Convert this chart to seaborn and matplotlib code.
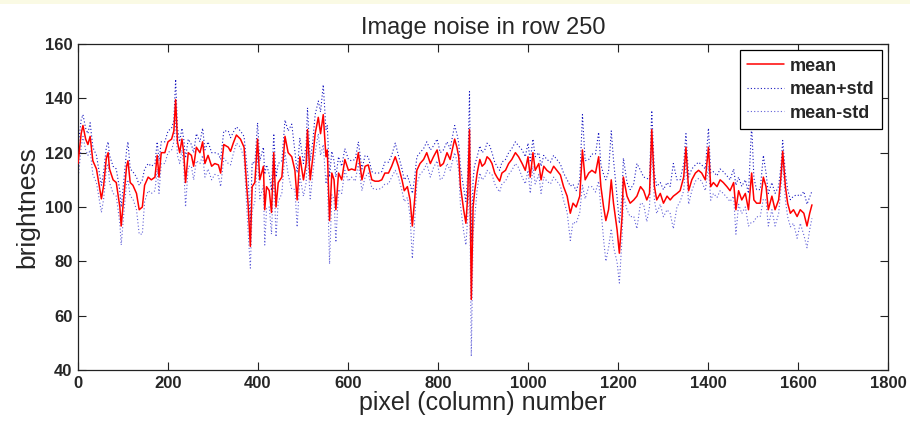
import numpy as np
import pandas as pd
import matplotlib
matplotlib.use("Agg")
import matplotlib.pyplot as plt
import seaborn as sns
from matplotlib.patches import Rectangle

# ---- data ----
columns = [0, 7, 11, 17, 22, 27, 33, 41, 47, 52, 57, 63, 67, 70, 78, 85, 93, 96, 102, 108,
           111, 116, 122, 130, 136, 143, 148, 156, 163, 171, 176, 180, 185, 193, 200, 208, 213, 217, 221, 226,
           231, 235, 239, 245, 252, 257, 263, 271, 277, 282, 289, 297, 304, 312, 317, 324, 334, 339, 345, 352,
           361, 369, 375, 378, 383, 387, 393, 399, 404, 412, 415, 419, 425, 430, 435, 440, 445, 453, 460, 467,
           475, 482, 487, 493, 501, 507, 510, 516, 522, 527, 534, 539, 545, 551, 554, 559, 564, 569, 573, 579,
           586, 593, 601, 608, 616, 623, 631, 638, 645, 653, 660, 668, 675, 682, 690, 697, 705, 712, 720, 725,
           732, 738, 743, 748, 753, 760, 768, 775, 783, 790, 798, 805, 812, 820, 827,
           837, 842, 846, 850, 857, 862, 866, 870, 874, 878, 881, 887, 893, 898, 904, 909, 915, 920, 926, 931,
           937, 942, 950, 957, 964, 972, 979, 987, 994, 1000, 1005, 1011, 1016, 1024, 1029, 1035, 1042, 1050, 1057, 1064,
           1072, 1079, 1087, 1094, 1100, 1107, 1115, 1121, 1127, 1135, 1142, 1150, 1157, 1162, 1168, 1173, 1179, 1185, 1190, 1198,
           1203, 1209, 1212, 1220, 1227, 1235, 1242, 1250, 1257, 1264, 1270, 1275, 1281, 1286, 1294, 1301, 1309, 1316, 1323, 1331,
           1338, 1346, 1351, 1357, 1364, 1372, 1379, 1386, 1394, 1401, 1406, 1412, 1420, 1427, 1434, 1442, 1449, 1457, 1462, 1468,
           1475, 1483, 1490, 1497, 1502, 1508, 1516, 1523, 1529, 1534, 1542, 1549, 1557, 1562, 1566, 1572, 1577, 1583, 1590, 1598,
           1605, 1613, 1620, 1626, 1631]

mean_vals = [116, 127, 130, 125, 123, 126, 117, 114, 108, 103, 108, 118, 120, 114, 110, 109, 100, 93, 104, 115,
             117, 109, 108, 105, 99, 100, 108, 111, 110, 111, 119, 111, 120, 120, 124, 125, 128, 139.5, 124, 120,
             125, 120, 109, 120, 119, 115, 122, 120, 124, 116, 119, 115, 116, 115.5, 112.5, 123, 122, 120.5, 123.5, 126.5,
             125, 122, 107.5, 101, 85.5, 107.5, 109, 125, 110, 115, 99, 107.5, 106, 98, 120, 100, 109, 111, 126, 120,
             118.5, 113.5, 102.6, 118.5, 110, 116, 128.5, 110, 118.5, 127, 133, 127, 134, 118.5, 121, 95, 112.5, 110, 99, 112.5,
             110, 117.5, 113.5, 114, 113.5, 120, 110, 115, 115.5, 110, 109.5, 109.5, 110, 112.5, 112.5, 115, 118.5, 115, 110, 106,
             107.5, 102.6, 93, 102.6, 113.5, 116, 117.5, 120, 116, 118.5, 121, 115, 116, 120, 117.5,
             125, 122, 118.5, 107.5, 99, 94, 104, 128.5, 66, 100, 105, 112.5, 117.5, 115, 116, 118.5, 117.5, 116, 112.5, 111,
             109.5, 112.5, 113.5, 116, 117.5, 120, 118.5, 116, 113.5, 118.5, 111, 120, 113.5, 116, 110, 115, 113.5, 112.5, 115, 113.5,
             111.8, 107.5, 104, 97.7, 101.4, 100, 104, 121, 110, 112.5, 113.5, 112.5, 118.5, 107.5, 100, 95, 99, 110, 101.4, 91.6,
             83, 96.5, 111, 104, 101.4, 102.6, 104, 107.5, 106, 102.6, 105, 128.5, 107.5, 102.6, 105, 101.4, 104, 102.6, 104, 105,
             106, 111, 122, 106, 110, 112.5, 113.5, 112.5, 110, 122, 107.5, 109, 107.5, 110, 109, 107.5, 106, 109, 99, 106,
             102.6, 105, 99, 112.5, 102.6, 101.4, 101.4, 111, 107.5, 99, 104, 99, 102.6, 111, 120.5, 107.5, 101.4, 97.7, 99, 96.5,
             99, 97.7, 93, 97.7, 100.8]

std_vals = [6, 5, 4, 4, 4, 5, 5, 5, 5, 5, 5, 4, 4, 5, 5, 5, 6, 7, 6, 6,
            7, 5, 5, 6, 9, 10, 6, 5, 5, 5, 5, 6, 4, 4, 4, 4, 4, 7.5, 5, 4,
            4, 5, 9, 5, 4, 5, 5, 4, 5, 5, 5, 5, 4, 4, 5, 5, 6, 5, 4, 3,
            3, 4, 8, 10, 8, 9, 7, 6, 7, 7, 13, 8, 6, 8, 7, 11, 7, 6, 6, 8,
            12, 7, 10, 7, 6, 7, 8, 7, 6, 7, 6, 8, 11, 10, 9, 16, 8, 7, 12, 6,
            5, 4, 4, 3, 4, 4, 4, 4, 3, 3, 3, 3, 3, 4, 4, 4, 5, 4, 4, 4,
            4, 6, 12, 8, 5, 4, 4, 4, 5, 4, 4, 5, 5, 4, 4,
            5, 5, 5, 7, 8, 8, 8, 14, 21, 10, 10, 6, 5, 5, 5, 5, 5, 4, 4, 4,
            4, 4, 4, 4, 4, 4, 4, 5, 5, 5, 6, 5, 5, 4, 5, 4, 4, 4, 4, 4,
            4, 5, 6, 10, 7, 6, 6, 13, 7, 5, 6, 7, 9, 8, 12, 15, 14, 18, 16, 12,
            11, 8, 7, 5, 5, 6, 12, 6, 5, 8, 5, 7, 5, 5, 4, 5, 5, 5, 12, 5,
            4, 5, 5, 5, 4, 3, 3, 3, 4, 7, 5, 4, 4, 4, 4, 4, 4, 5, 9, 5,
            5, 5, 6, 18, 8, 5, 5, 8, 5, 6, 5, 6, 5, 4, 4, 5, 5, 5, 5, 8,
            5, 8, 8, 6, 5]

x_ticks = [0, 200, 400, 600, 800, 1000, 1200, 1400, 1600, 1800]
y_ticks = [40, 60, 80, 100, 120, 140, 160]

# ---- table ----
mean_arr = np.array(mean_vals, dtype=float)
std_arr = np.array(std_vals, dtype=float)
df = pd.DataFrame({
    "pixel": columns,
    "mean": mean_arr,
    "mean+std": mean_arr + std_arr,
    "mean-std": mean_arr - std_arr,
})

sns.set_style("ticks")
plt.rcParams["font.family"] = ["Liberation Sans", "DejaVu Sans"]

fig = plt.figure(figsize=(9.10, 4.21), dpi=100)
fig.patch.set_facecolor("white")
fig.patches.append(Rectangle((0, 1 - 4 / 421), 1, 4 / 421, transform=fig.transFigure,
                             facecolor="#fafae4", edgecolor="none", zorder=0))
ax = fig.add_axes([78 / 910, 1 - 370 / 421, (888 - 78) / 910, (370 - 44) / 421])

sns.lineplot(data=df, x="pixel", y="mean", color="red", lw=1.1, ax=ax, zorder=3, label="mean")
sns.lineplot(data=df, x="pixel", y="mean+std", color="#1818c0", lw=0.8, ls=(0, (1, 2)), ax=ax,
             zorder=2, label="mean+std")
sns.lineplot(data=df, x="pixel", y="mean-std", color="#6060d8", lw=0.8, ls=(0, (1, 2)), ax=ax,
             zorder=2, label="mean-std")

ax.set_xlim(0, 1800)
ax.set_ylim(40, 160)
ax.set_xticks(x_ticks)
ax.set_yticks(y_ticks)
ax.tick_params(direction="in", length=6, width=0.8, top=True, right=True,
               labelsize=12, pad=4, color="#222222")
for lab in ax.get_xticklabels() + ax.get_yticklabels():
    lab.set_fontweight("bold")
for sp in ax.spines.values():
    sp.set_visible(True)
    sp.set_linewidth(0.9)
    sp.set_color("#222222")

ax.set_xlabel("pixel (column) number", fontsize=18, labelpad=0)
ax.set_ylabel("brightness", fontsize=19, labelpad=4)
ax.set_title("Image noise in row 250", fontsize=17, pad=7)

leg = ax.legend(loc="upper right", frameon=True, fancybox=False,
                prop={"weight": "bold", "size": 13}, handlelength=2.0, borderpad=0.4,
                labelspacing=0.36, handletextpad=0.35, borderaxespad=0.35)
leg.get_frame().set_edgecolor("black")
leg.get_frame().set_linewidth(0.9)
leg.get_frame().set_alpha(1)

fig.savefig("out.png", dpi=100)
